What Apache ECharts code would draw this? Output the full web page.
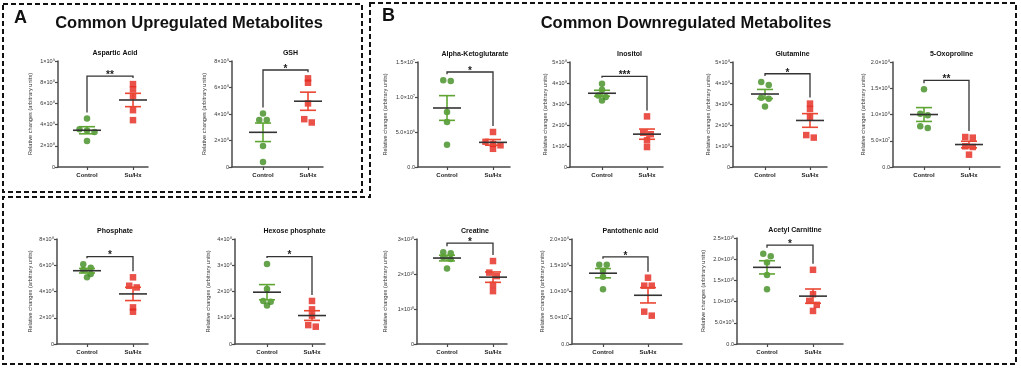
<!DOCTYPE html>
<html><head><meta charset="utf-8">
<script src="https://cdn.jsdelivr.net/npm/echarts/dist/echarts.min.js"></script>
<style>html,body{margin:0;padding:0;background:#fff}#c{width:1021px;height:369px}</style>
</head><body><div id="c"></div>
<script>
// ---------- DATA ----------
const groups = ['Control', 'Su/Hx'];
const panelTitles = ['Aspartic Acid','GSH','Alpha-Ketoglutarate','Inositol','Glutamine','5-Oxoproline',
  'Phosphate','Hexose phosphate','Creatine','Pantothenic acid','Acetyl Carnitine'];
const aspControl = [4.57e8, 3.55e8, 3.45e8, 3.3e8, 2.46e8];
const aspSuHx    = [7.82e8, 7.32e8, 6.69e8, 5.36e8, 4.42e8];
const gshControl = [4.04e8, 3.54e8, 3.54e8, 1.59e8, 0.38e8];
const gshSuHx    = [6.69e8, 6.36e8, 4.8e8, 3.61e8, 3.36e8];
const akgControl = [1.238e7, 1.229e7, 0.786e7, 0.643e7, 0.319e7];
const akgSuHx    = [0.50e7, 0.36e7, 0.33e7, 0.31e7, 0.26e7];
const inoControl = [3.97e8, 3.68e8, 3.41e8, 3.33e8, 3.17e8];
const inoSuHx    = [2.41e8, 1.63e8, 1.56e8, 1.27e8, 0.95e8];
const glnControl = [4.05e8, 3.9e8, 3.3e8, 3.25e8, 2.88e8];
const glnSuHx    = [3.02e8, 2.76e8, 2.38e8, 1.52e8, 1.40e8];
const oxoControl = [1.48e8, 1.016e8, 0.984e8, 0.775e8, 0.743e8];
const oxoSuHx    = [0.571e8, 0.559e8, 0.394e8, 0.381e8, 0.235e8];
const phoControl = [6.07e8, 5.81e8, 5.63e8, 5.33e8, 5.08e8];
const phoSuHx    = [5.08e8, 4.44e8, 4.31e8, 2.79e8, 2.46e8];
const hexControl = [3.05e8, 2.10e8, 1.64e8, 1.61e8, 1.47e8];
const hexSuHx    = [1.64e8, 1.32e8, 1.08e8, 0.72e8, 0.66e8];
const creControl = [2.62e10, 2.59e10, 2.48e10, 2.43e10, 2.16e10];
const creSuHx    = [2.37e10, 2.04e10, 1.94e10, 1.69e10, 1.51e10];
const panControl = [1.511e8, 1.511e8, 1.397e8, 1.283e8, 1.041e8];
const panSuHx    = [1.263e8, 1.111e8, 1.111e8, 0.616e8, 0.54e8];
const acaControl = [2.13e10, 2.07e10, 1.92e10, 1.63e10, 1.29e10];
const acaSuHx    = [1.75e10, 1.175e10, 1.017e10, 0.923e10, 0.78e10];
const sigStars   = ['**','*','*','***','*','**','*','*','*','*','*'];
const sigLevel   = [8.58e8, 7.32e8, 1.357e7, 4.32e8, 4.44e8, 1.65e8, 6.65e8, 3.33e8, 2.88e10, 1.66e8, 2.33e10];
const yMax       = [1e9, 8e8, 1.5e7, 5e8, 5e8, 2e8, 8e8, 4e8, 3e10, 2e8, 2.5e10];
const yStep      = [2e8, 2e8, 5e6, 1e8, 1e8, 5e7, 2e8, 1e8, 1e10, 5e7, 5e9];
const yDecimals  = [0, 0, 1, 0, 0, 1, 0, 0, 0, 1, 1];
const yAxisName  = 'Relative changes (arbitrary units)';

const controls = [aspControl, gshControl, akgControl, inoControl, glnControl, oxoControl, phoControl, hexControl, creControl, panControl, acaControl];
const suhxs    = [aspSuHx, gshSuHx, akgSuHx, inoSuHx, glnSuHx, oxoSuHx, phoSuHx, hexSuHx, creSuHx, panSuHx, acaSuHx];

// ---------- LAYOUT (pixels) ----------
const layout = [
  {l:58,  t:61,  r:148,  b:167, c:87,  s:133, gap:25},
  {l:232, t:61,  r:323,  b:167, c:263, s:308, gap:25},
  {l:418, t:62,  r:510,  b:167, c:447, s:493, gap:30},
  {l:570, t:62,  r:663,  b:167, c:602, s:647, gap:21},
  {l:733, t:62,  r:827,  b:167, c:765, s:810, gap:21},
  {l:893, t:62,  r:1000, b:167, c:924, s:969, gap:25},
  {l:57,  t:239, r:148,  b:344, c:87,  s:133, gap:24},
  {l:235, t:239, r:325,  b:344, c:267, s:312, gap:24},
  {l:417, t:239, r:507,  b:344, c:447, s:493, gap:29},
  {l:572, t:239, r:682,  b:344, c:603, s:648, gap:23},
  {l:737, t:238, r:843,  b:344, c:767, s:813, gap:31}
];

const GREEN = '#3f8d1f', GREEN_BAR = '#5fa533', RED = '#e4261c', RED_BAR = '#ea4632', AXIS = '#4a4a4a';
const FONT = 'Liberation Sans, Arial, sans-serif';
const SYM = 6.5;

const SUP = {'0':'⁰','1':'¹','2':'²','3':'³','4':'⁴','5':'⁵','6':'⁶','7':'⁷','8':'⁸','9':'⁹','-':'⁻'};
function sci(v, dec) {
  if (Math.abs(v) < 1e-30) return dec ? (0).toFixed(dec) : '0';
  const e = Math.floor(Math.log10(v) + 1e-9);
  const m = v / Math.pow(10, e);
  return m.toFixed(dec) + '×10' + String(e).split('').map(ch => SUP[ch]).join('');
}
function mean(a){ return a.reduce((x,y)=>x+y,0)/a.length; }
function sem(a){ const m=mean(a); const v=a.reduce((s,x)=>s+(x-m)*(x-m),0)/(a.length-1); return Math.sqrt(v/a.length); }
// simple beeswarm: values close in pixel space share a row, spread horizontally
function swarm(vals, pxPerVal) {
  const idx = vals.map((v,i)=>i).sort((a,b)=>vals[b]-vals[a]);
  const offs = new Array(vals.length).fill(0);
  let row = [], start = null;
  const flush = () => row.forEach((i,k)=>{ offs[i] = (k-(row.length-1)/2)*(SYM+1); });
  idx.forEach(i => {
    if (start !== null && (start - vals[i]) * pxPerVal < 4.2) row.push(i);
    else { flush(); row = [i]; start = vals[i]; }
  });
  flush();
  return offs;
}

const grids = [], xAxes = [], yAxes = [], series = [], titles = [];
layout.forEach((L, i) => {
  const unit = L.s - L.c;
  const xmin = 1 - (L.c - L.l)/unit, xmax = 2 + (L.r - L.s)/unit;
  grids.push({left:L.l, top:L.t, width:L.r-L.l, height:L.b-L.t, containLabel:false, outerBoundsMode:'none'});
  xAxes.push({
    gridIndex:i, type:'value', min:xmin, max:xmax, splitLine:{show:false},
    axisLine:{lineStyle:{color:AXIS, width:1.5}},
    axisTick:{customValues:[1,2], length:3, lineStyle:{color:AXIS, width:1.2}},
    axisLabel:{customValues:[1,2], formatter:v => groups[Math.round(v)-1] || '', fontSize:6, fontWeight:'bold', color:'#222', fontFamily:FONT, margin:5}
  });
  yAxes.push({
    gridIndex:i, type:'value', min:0, max:yMax[i], interval:yStep[i], splitLine:{show:false},
    axisLine:{show:true, lineStyle:{color:AXIS, width:1.5}},
    axisTick:{show:true, length:3, lineStyle:{color:AXIS, width:1.2}},
    axisLabel:{formatter:v => sci(v, yDecimals[i]), fontSize:5.5, color:'#333', fontFamily:FONT, margin:3},
    name:yAxisName, nameLocation:'middle', nameGap:L.gap,
    nameTextStyle:{fontSize:5.6, color:'#333', fontFamily:FONT}
  });
  titles.push({text:panelTitles[i], left:(L.c+L.s)/2, top:L.t-16, textAlign:'center',
    textStyle:{fontSize:7, fontWeight:'bold', color:'#111', fontFamily:FONT}});
  const pxPerVal = (L.b - L.t) / yMax[i];
  const cOff = swarm(controls[i], pxPerVal), sOff = swarm(suhxs[i], pxPerVal);
  series.push({type:'scatter', xAxisIndex:i, yAxisIndex:i, symbol:'circle', symbolSize:SYM, z:2,
    itemStyle:{color:GREEN}, data:controls[i].map((v,k)=>({value:[1,v], symbolOffset:[cOff[k],0]}))});
  series.push({type:'scatter', xAxisIndex:i, yAxisIndex:i, symbol:'rect', symbolSize:SYM, z:2,
    itemStyle:{color:RED}, data:suhxs[i].map((v,k)=>({value:[2,v], symbolOffset:[sOff[k],0]}))});
  // mean ± SEM
  const stats = [controls[i], suhxs[i]].map((a,g)=>{ const m=mean(a), s=sem(a); return [g+1, m, m-s, m+s]; });
  series.push({type:'custom', xAxisIndex:i, yAxisIndex:i, z:5, silent:true, data:stats,
    renderItem:(params, api) => {
      const g = api.value(0);
      const pm = api.coord([g, api.value(1)]), pl = api.coord([g, api.value(2)]), ph = api.coord([g, api.value(3)]);
      const col = g === 1 ? GREEN_BAR : RED_BAR;
      const st = {stroke:col, lineWidth:1.6};
      return {type:'group', children:[
        {type:'line', shape:{x1:pl[0], y1:pl[1], x2:ph[0], y2:ph[1]}, style:st},
        {type:'line', shape:{x1:ph[0]-8, y1:ph[1], x2:ph[0]+8, y2:ph[1]}, style:st},
        {type:'line', shape:{x1:pl[0]-8, y1:pl[1], x2:pl[0]+8, y2:pl[1]}, style:st},
        {type:'line', shape:{x1:pm[0]-14, y1:pm[1], x2:pm[0]+14, y2:pm[1]}, style:{stroke:'#333', lineWidth:1.6}}
      ]};
    }});
  // significance bracket
  series.push({type:'custom', xAxisIndex:i, yAxisIndex:i, z:4, silent:true,
    data:[[Math.max(...controls[i]), Math.max(...suhxs[i]), sigLevel[i]]],
    renderItem:(params, api) => {
      const pc = api.coord([1, api.value(0)]), ps = api.coord([2, api.value(1)]), pL = api.coord([1, api.value(2)]);
      return {type:'group', children:[
        {type:'polyline', shape:{points:[[pc[0], pc[1]-6], [pc[0], pL[1]], [ps[0], pL[1]], [ps[0], ps[1]-6]]},
          style:{stroke:'#333', lineWidth:1.3, fill:null}},
        {type:'text', style:{text:sigStars[i], x:(pc[0]+ps[0])/2, y:pL[1]-1, align:'center', verticalAlign:'middle',
          fontSize:10, fontWeight:'bold', fontFamily:FONT, fill:'#222'}}
      ]};
    }});
});

const dash = {fill:'none', stroke:'#111', lineWidth:2, lineDash:[5,3]};
const option = {
  backgroundColor:'#fff',
  animation:false,
  title:titles,
  grid:grids, xAxis:xAxes, yAxis:yAxes, series:series,
  graphic:[
    {type:'rect', shape:{x:3, y:4, width:359, height:188}, style:dash, silent:true},
    {type:'polygon', shape:{points:[[370,3],[1016,3],[1016,364],[3,364],[3,197],[370,197]]}, style:dash, silent:true},
    {type:'text', left:14, top:9, style:{text:'A', fontSize:18, fontWeight:'bold', fontFamily:FONT, fill:'#111'}},
    {type:'text', left:382, top:7, style:{text:'B', fontSize:18, fontWeight:'bold', fontFamily:FONT, fill:'#111'}},
    {type:'text', x:189, y:23, style:{text:'Common Upregulated Metabolites', x:0, y:0, align:'center', verticalAlign:'middle', fontSize:16.5, fontWeight:'bold', fontFamily:FONT, fill:'#111'}},
    {type:'text', x:686, y:23, style:{text:'Common Downregulated Metabolites', x:0, y:0, align:'center', verticalAlign:'middle', fontSize:16.5, fontWeight:'bold', fontFamily:FONT, fill:'#111'}}
  ]
};
const chart = echarts.init(document.getElementById('c'), null, {renderer:'canvas'});
chart.setOption(option);
</script>
</body></html>
